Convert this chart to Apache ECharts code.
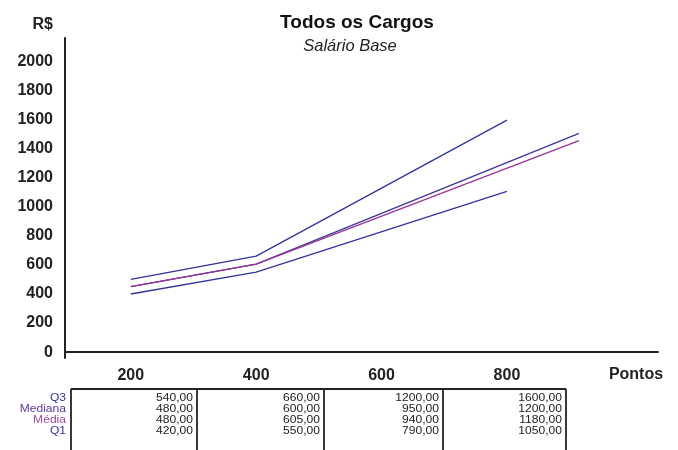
<!DOCTYPE html>
<html>
<head>
<meta charset="utf-8">
<script src="https://cdn.jsdelivr.net/npm/echarts@6/dist/echarts.min.js"></script>
<style>
html,body{margin:0;padding:0;background:#fff;}
#chart{width:678px;height:450px;}
</style>
</head>
<body>
<div id="chart"></div>
<script>
// ---- data ----
var xTickLabels = [200, 400, 600, 800];
var yTickLabels = [0, 200, 400, 600, 800, 1000, 1200, 1400, 1600, 1800, 2000];

// plotted lines [Pontos, R$]
var lineQ3      = [[200, 500], [400, 660], [800, 1595]];
var lineMediana = [[200, 450], [400, 605], [915, 1505]];
var lineMedia   = [[200, 450], [400, 605], [915, 1455]];
var lineQ1      = [[200, 400], [400, 550], [800, 1105]];

// data table below the chart
var rowLabels    = ['Q3', 'Mediana', 'Média', 'Q1'];
var tableQ3      = [540, 660, 1200, 1600];
var tableMediana = [480, 600, 950, 1200];
var tableMedia   = [480, 605, 940, 1180];
var tableQ1      = [420, 550, 790, 1050];

// ---- styling / layout ----
var FONT = '"Liberation Sans", Arial, sans-serif';
var colBlue = '#333399';
var colMed = '#3f3596';
var colMedia = '#993399';
var rowColors = ['#333399', '#5a3a9a', '#a04a9a', '#333399'];
var tableCols = [71, 197, 324, 443, 566];
var tableTop = 389;
var rowY = [398.5, 409.5, 420.5, 431.5];

function fmt(v) { return v.toFixed(2).replace('.', ','); }

var chart = echarts.init(document.getElementById('chart'));

var graphics = [
  { type: 'text', style: { text: 'Todos os Cargos', x: 357, y: 23, align: 'center', verticalAlign: 'middle', textAlign: 'center', textVerticalAlign: 'middle', font: 'bold 19px ' + FONT, fill: '#111' } },
  { type: 'text', style: { text: 'Salário Base', x: 350, y: 46, align: 'center', verticalAlign: 'middle', textAlign: 'center', textVerticalAlign: 'middle', font: 'italic 16.5px ' + FONT, fill: '#222' } },
  { type: 'text', style: { text: 'R$', x: 53, y: 25, align: 'right', verticalAlign: 'middle', textAlign: 'right', textVerticalAlign: 'middle', font: 'bold 16px ' + FONT, fill: '#222' } },
  { type: 'text', style: { text: 'Pontos', x: 636, y: 375, align: 'center', verticalAlign: 'middle', textAlign: 'center', textVerticalAlign: 'middle', font: 'bold 16px ' + FONT, fill: '#222' } },
  { type: 'line', shape: { x1: tableCols[0], y1: tableTop, x2: tableCols[tableCols.length - 1], y2: tableTop }, style: { stroke: '#222', lineWidth: 2 } }
];
tableCols.forEach(function (cx) {
  graphics.push({ type: 'line', shape: { x1: cx, y1: tableTop, x2: cx, y2: 452 }, style: { stroke: '#222', lineWidth: 1.8 } });
});
function cellText(txt, px, py, color) {
  return { type: 'text', x: px, y: py, scaleX: 1.15, scaleY: 1,
    style: { text: txt, x: 0, y: 0, align: 'right', verticalAlign: 'middle', textAlign: 'right', textVerticalAlign: 'middle', font: '10.5px ' + FONT, fill: color } };
}
var tableRows = [tableQ3, tableMediana, tableMedia, tableQ1];
rowLabels.forEach(function (lab, r) {
  graphics.push(cellText(lab, 66, rowY[r], rowColors[r]));
  tableRows[r].forEach(function (v, c) {
    graphics.push(cellText(fmt(v), tableCols[c + 1] - 4, rowY[r], '#222'));
  });
});

function lineSeries(name, data, color, z) {
  return { name: name, type: 'line', data: data, showSymbol: false, symbol: 'none', z: z,
    lineStyle: { color: color, width: 1.3 }, itemStyle: { color: color }, animation: false };
}

chart.setOption({
  animation: false,
  grid: { left: 65, right: 20, top: 38, bottom: 92 },
  xAxis: {
    type: 'value', min: 95, max: 1041,
    axisLine: { show: true, lineStyle: { color: '#222', width: 2 } },
    axisTick: { show: false },
    splitLine: { show: false },
    axisLabel: { customValues: xTickLabels, formatter: function (v) { return String(v); }, margin: 10, fontFamily: FONT, fontSize: 16, fontWeight: 'bold', color: '#222' }
  },
  yAxis: {
    type: 'value', min: -40, max: 2160,
    axisLine: { show: true, lineStyle: { color: '#222', width: 2 } },
    axisTick: { show: false },
    splitLine: { show: false },
    axisLabel: { customValues: yTickLabels, formatter: function (v) { return String(v); }, margin: 12, fontFamily: FONT, fontSize: 16, fontWeight: 'bold', color: '#222' }
  },
  series: [
    lineSeries('Q3', lineQ3, colBlue, 3),
    lineSeries('Mediana', lineMediana, colMed, 2),
    lineSeries('Média', lineMedia, colMedia, 4),
    lineSeries('Q1', lineQ1, colBlue, 3)
  ],
  graphic: graphics
});
</script>
</body>
</html>
